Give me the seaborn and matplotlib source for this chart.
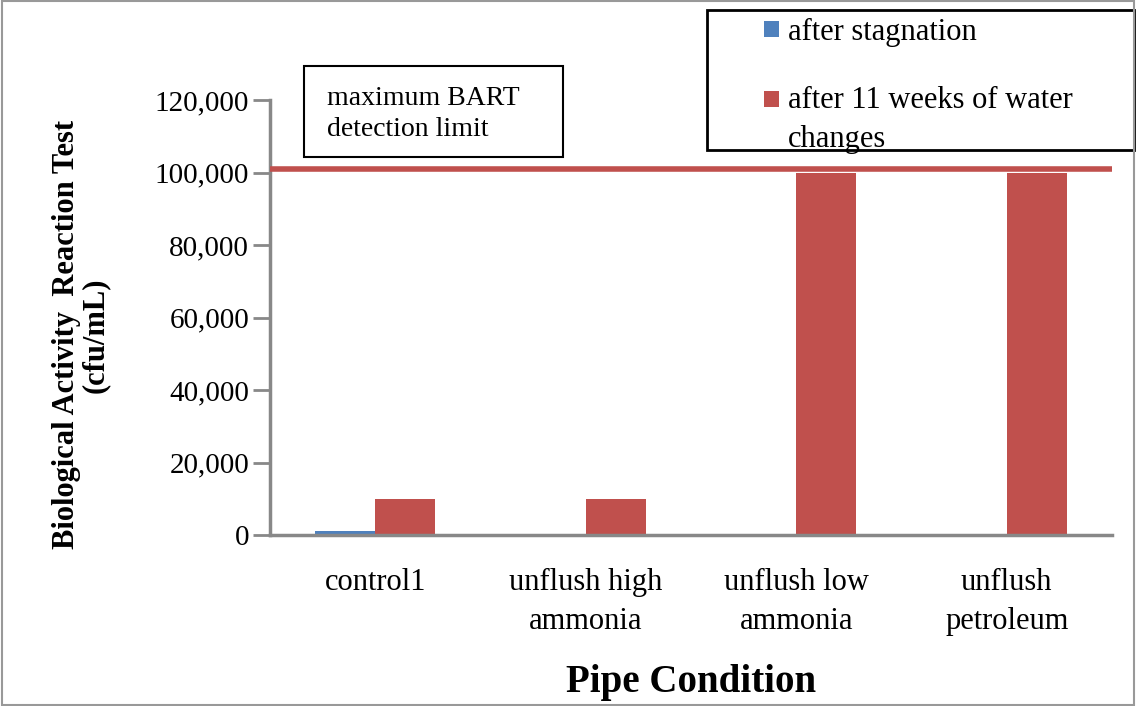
import matplotlib
matplotlib.use("Agg")
import matplotlib.pyplot as plt
import seaborn as sns
import pandas as pd
from matplotlib.patches import Rectangle
from matplotlib.ticker import FuncFormatter

categories = ["control1", "unflush high\nammonia", "unflush low\nammonia", "unflush\npetroleum"]
after_stagnation = [1000, 0, 0, 0]
after_11_weeks = [10000, 10000, 100000, 100000]
series_names = ["after stagnation", "after 11 weeks of water\nchanges"]
detection_limit = 101000
y_ticks = [0, 20000, 40000, 60000, 80000, 100000, 120000]

rows = []
for c, a, b in zip(categories, after_stagnation, after_11_weeks):
    rows.append({"cat": c, "series": series_names[0], "value": a})
    rows.append({"cat": c, "series": series_names[1], "value": b})
df = pd.DataFrame(rows)

sns.set_style("white")
plt.rcParams["font.family"] = ["Liberation Serif", "DejaVu Serif"]
plt.rcParams["text.color"] = "black"
plt.rcParams["axes.labelcolor"] = "black"
plt.rcParams["xtick.color"] = "black"
plt.rcParams["ytick.color"] = "black"

colors = ["#4F81BD", "#C0504D"]
fig = plt.figure(figsize=(11.36, 7.06), dpi=100)
ax = fig.add_axes([270/1136, 1-535/706, (1112-270)/1136, (535-100)/706])

sns.barplot(data=df, x="cat", y="value", hue="series", palette=colors,
            width=0.57, ax=ax, legend=False, saturation=1, edgecolor="none")

ax.set_xlim(-0.5, len(categories)-0.5)
ax.set_ylim(0, 120000)
ax.set_yticks(y_ticks)
ax.yaxis.set_major_formatter(FuncFormatter(lambda v, p: f"{int(v):,}"))
ax.tick_params(axis="y", labelsize=21, length=12, width=2, color="#888888",
               labelcolor="black", direction="out", left=True, pad=3)
ax.set_xticks(range(len(categories)))
ax.set_xticklabels(categories, fontsize=22, linespacing=1.45)
ax.tick_params(axis="x", length=0, pad=24, labelcolor="black")
ax.set_xticks([i - 0.5 for i in range(len(categories)+1)], minor=True)
ax.tick_params(axis="x", which="minor", length=12, width=2, color="#888888", direction="out")

for s in ["top", "right"]:
    ax.spines[s].set_visible(False)
for s in ["left", "bottom"]:
    ax.spines[s].set_color("#888888")
    ax.spines[s].set_linewidth(2.5)

ax.axhline(detection_limit, color="#C0504D", lw=4, xmin=0, xmax=1, zorder=5)

ax.set_ylabel("Biological Activity  Reaction Test\n(cfu/mL)", fontsize=22, fontweight="bold",
              linespacing=1.0)
ax.yaxis.set_label_coords(-0.19, 0.46)
ax.set_xlabel("Pipe Condition", fontsize=28, fontweight="bold", va="center")
ax.xaxis.set_label_coords(0.5, -0.338)

# detection limit annotation box
fig.patches.append(Rectangle((304/1136, 1-157/706), (563-304)/1136, (157-66)/706,
                             transform=fig.transFigure, fill=False, edgecolor="black", lw=1.5))
fig.text(327/1136, 1-86/706, "maximum BART\ndetection limit", fontsize=20, va="top", ha="left",
         linespacing=1.3)

# legend (box, colour keys and labels)
fig.patches.append(Rectangle((707/1136, 1-150/706), (1134-707)/1136, (150-10)/706,
                             transform=fig.transFigure, fill=False, edgecolor="black", lw=2))
key_tops = [21, 91]
label_centers = [32, 120]
for col, name, kt, lc in zip(colors, series_names, key_tops, label_centers):
    fig.patches.append(Rectangle((764/1136, 1-(kt+16)/706), 15/1136, 16/706,
                                 transform=fig.transFigure, facecolor=col, edgecolor="none"))
    fig.text(788/1136, 1-lc/706, name, fontsize=22, va="center", ha="left", linespacing=1.5)

# figure border
fig.patches.append(Rectangle((0.002, 0.002), 0.996, 0.996, transform=fig.transFigure,
                             fill=False, edgecolor="#999999", lw=1.5))

fig.savefig("out.png", dpi=100)
